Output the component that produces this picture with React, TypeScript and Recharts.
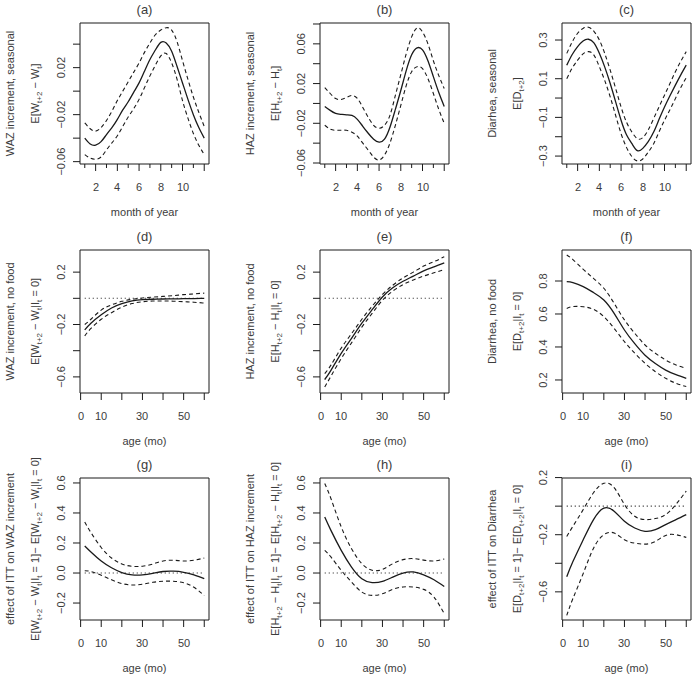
import React from "react";
import {
  LineChart,
  Line,
  XAxis,
  YAxis,
  ReferenceArea,
  ReferenceLine,
} from "recharts";

// month grid (half steps) and age grid
const MONTHS = [1, 1.5, 2, 2.5, 3, 3.5, 4, 4.5, 5, 5.5, 6, 6.5, 7, 7.5, 8, 8.5, 9, 9.5, 10, 10.5, 11, 11.5, 12];
const AGES = [2, 5, 10, 15, 20, 25, 30, 35, 40, 45, 50, 55, 60];

// (a) WAZ increment, seasonal
const aFit = [-0.040, -0.045, -0.046, -0.043, -0.037, -0.031, -0.024, -0.016, -0.009, -0.001, 0.007, 0.017, 0.027, 0.035, 0.0415, 0.041, 0.034, 0.021, 0.007, -0.007, -0.020, -0.031, -0.040];
const aUp = [-0.027, -0.032, -0.034, -0.031, -0.025, -0.017, -0.008, 0.000, 0.008, 0.016, 0.024, 0.033, 0.041, 0.048, 0.052, 0.054, 0.052, 0.042, 0.026, 0.010, -0.005, -0.018, -0.030];
const aLo = [-0.054, -0.057, -0.058, -0.056, -0.050, -0.044, -0.038, -0.030, -0.022, -0.015, -0.007, 0.003, 0.013, 0.022, 0.030, 0.032, 0.024, 0.010, -0.008, -0.023, -0.036, -0.046, -0.054];

// (b) HAZ increment, seasonal
const bFit = [-0.003, -0.007, -0.010, -0.011, -0.0115, -0.012, -0.016, -0.023, -0.030, -0.036, -0.039, -0.036, -0.024, -0.006, 0.013, 0.033, 0.049, 0.056, 0.054, 0.043, 0.027, 0.011, -0.003];
const bUp = [0.016, 0.010, 0.005, 0.004, 0.006, 0.008, 0.005, -0.004, -0.014, -0.022, -0.025, -0.022, -0.012, 0.008, 0.029, 0.050, 0.067, 0.076, 0.072, 0.060, 0.043, 0.028, 0.015];
const bLo = [-0.022, -0.026, -0.027, -0.027, -0.027, -0.029, -0.033, -0.040, -0.047, -0.054, -0.057, -0.052, -0.040, -0.022, -0.002, 0.018, 0.032, 0.037, 0.035, 0.025, 0.010, -0.006, -0.020];

// (c) Diarrhea, seasonal
const cFit = [0.17, 0.225, 0.266, 0.295, 0.304, 0.285, 0.231, 0.16, 0.075, -0.02, -0.115, -0.19, -0.236, -0.272, -0.26, -0.225, -0.176, -0.11, -0.046, 0.012, 0.067, 0.12, 0.17];
const cUp = [0.231, 0.29, 0.335, 0.36, 0.366, 0.345, 0.30, 0.23, 0.144, 0.05, -0.046, -0.125, -0.176, -0.21, -0.205, -0.165, -0.106, -0.045, 0.015, 0.075, 0.136, 0.19, 0.24];
const cLo = [0.10, 0.155, 0.196, 0.228, 0.24, 0.222, 0.162, 0.09, 0.006, -0.09, -0.184, -0.255, -0.303, -0.325, -0.315, -0.28, -0.236, -0.175, -0.115, -0.06, -0.003, 0.055, 0.105];

// (d) WAZ increment, no food
const dFit = [-0.241, -0.19, -0.126, -0.074, -0.041, -0.02, -0.01, -0.007, -0.005, -0.004, -0.003, -0.002, 0.0];
const dUp = [-0.20, -0.16, -0.09, -0.05, -0.023, -0.008, 0.003, 0.009, 0.015, 0.021, 0.028, 0.034, 0.04];
const dLo = [-0.287, -0.23, -0.16, -0.11, -0.067, -0.04, -0.026, -0.021, -0.02, -0.022, -0.026, -0.03, -0.036];

// (e) HAZ increment, no food
const eFit = [-0.62, -0.55, -0.42, -0.305, -0.19, -0.087, 0.01, 0.08, 0.13, 0.17, 0.21, 0.24, 0.27];
const eUp = [-0.575, -0.51, -0.38, -0.27, -0.16, -0.06, 0.03, 0.10, 0.156, 0.20, 0.246, 0.28, 0.318];
const eLo = [-0.677, -0.595, -0.46, -0.34, -0.22, -0.115, -0.015, 0.055, 0.105, 0.14, 0.17, 0.195, 0.22];

// (f) Diarrhea, no food
const fFit = [0.796, 0.79, 0.766, 0.73, 0.685, 0.604, 0.503, 0.42, 0.35, 0.30, 0.26, 0.232, 0.21];
const fUp = [0.958, 0.93, 0.871, 0.816, 0.756, 0.665, 0.564, 0.483, 0.412, 0.362, 0.321, 0.291, 0.271];
const fLo = [0.634, 0.645, 0.644, 0.628, 0.584, 0.513, 0.432, 0.362, 0.301, 0.25, 0.21, 0.18, 0.16];

// (g) effect of ITT on WAZ increment
const gFit = [0.18, 0.14, 0.08, 0.035, 0.003, -0.012, -0.012, -0.002, 0.01, 0.012, 0.005, -0.013, -0.038];
const gUp = [0.34, 0.27, 0.17, 0.10, 0.06, 0.045, 0.045, 0.06, 0.08, 0.085, 0.08, 0.085, 0.10];
const gLo = [0.015, 0.01, -0.015, -0.045, -0.07, -0.08, -0.075, -0.062, -0.055, -0.055, -0.065, -0.095, -0.15];

// (h) effect of ITT on HAZ increment
const hFit = [0.373, 0.284, 0.151, 0.04, -0.038, -0.064, -0.056, -0.027, 0.0, 0.007, -0.012, -0.045, -0.09];
const hUp = [0.596, 0.496, 0.307, 0.162, 0.062, 0.018, 0.024, 0.062, 0.089, 0.096, 0.086, 0.08, 0.094];
const hLo = [0.151, 0.107, 0.018, -0.06, -0.127, -0.149, -0.138, -0.109, -0.093, -0.093, -0.109, -0.16, -0.271];

// (i) effect of ITT on Diarrhea
const iFit = [-0.494, -0.388, -0.235, -0.094, -0.014, -0.035, -0.106, -0.153, -0.176, -0.165, -0.129, -0.094, -0.059];
const iUp = [-0.212, -0.141, -0.024, 0.094, 0.16, 0.129, 0.012, -0.071, -0.094, -0.087, -0.059, 0.012, 0.106];
const iLo = [-0.765, -0.647, -0.471, -0.294, -0.2, -0.188, -0.235, -0.259, -0.266, -0.247, -0.205, -0.2, -0.219];

// ticks
const monthTicks = [1, 2, 3, 4, 5, 6, 7, 8, 9, 10, 11, 12];
const monthMajor = [2, 4, 6, 8, 10, 12];
const monthLabels = [2, 4, 6, 8, 10];
const ageTicks = [0, 10, 20, 30, 40, 50, 60];
const ageLabels = [0, 10, 30, 50];

type Seg = [string, boolean];

const rows = (xs: number[], fit: number[], up: number[], lo: number[]) =>
  xs.map((x, i) => ({ x, fit: fit[i], up: up[i], lo: lo[i] }));

const fmt = (v: number, d: number) => {
  const s = Math.abs(v).toFixed(d);
  return v < 0 ? "\u2212" + s : s;
};

const TXT = "#3c3c3c";
const LINE = "#1a1a1a";

const mkSub = (a: string): Seg[] => [["E[" + a, false], ["t+2", true], [" \u2212 " + a, false], ["t", true]];

const panels = [
  { id: "(a)", bx: 80, by: 23, bh: 141, data: rows(MONTHS, aFit, aUp, aLo), xd: [0.56, 12.44], xt: monthTicks, xm: monthMajor, xl: monthLabels, yd: [-0.062, 0.058], yt: [-0.06, -0.04, -0.02, 0, 0.02, 0.04], yl: [-0.06, -0.02, 0.02], dec: 2, zero: false, xtitle: "month of year", t1: "WAZ increment, seasonal", t2: [...mkSub("W"), ["]", false]] as Seg[] },
  { id: "(b)", bx: 320, by: 23, bh: 141, data: rows(MONTHS, bFit, bUp, bLo), xd: [0.56, 12.44], xt: monthTicks, xm: monthMajor, xl: monthLabels, yd: [-0.061, 0.081], yt: [-0.06, -0.04, -0.02, 0, 0.02, 0.04, 0.06, 0.08], yl: [-0.06, -0.02, 0.02, 0.06], dec: 2, zero: false, xtitle: "month of year", t1: "HAZ increment, seasonal", t2: [...mkSub("H"), ["]", false]] as Seg[] },
  { id: "(c)", bx: 562, by: 23, bh: 141, data: rows(MONTHS, cFit, cUp, cLo), xd: [0.56, 12.44], xt: monthTicks, xm: monthMajor, xl: monthLabels, yd: [-0.341, 0.388], yt: [-0.3, -0.2, -0.1, 0, 0.1, 0.2, 0.3], yl: [-0.3, -0.1, 0.1, 0.3], dec: 1, zero: false, xtitle: "month of year", t1: "Diarhea, seasonal", t2: [["E[D", false], ["t+2", true], ["]", false]] as Seg[] },
  { id: "(d)", bx: 80, by: 250, bh: 143, data: rows(AGES, dFit, dUp, dLo), xd: [-0.3, 62.3], xt: ageTicks, xm: ageTicks, xl: ageLabels, yd: [-0.723, 0.369], yt: [-0.6, -0.4, -0.2, 0, 0.2], yl: [-0.6, -0.2, 0.2], dec: 1, zero: true, xtitle: "age (mo)", t1: "WAZ increment, no food", t2: [...mkSub("W"), ["|I", false], ["t", true], [" = 0]", false]] as Seg[] },
  { id: "(e)", bx: 320, by: 250, bh: 143, data: rows(AGES, eFit, eUp, eLo), xd: [-0.3, 62.3], xt: ageTicks, xm: ageTicks, xl: ageLabels, yd: [-0.723, 0.369], yt: [-0.6, -0.4, -0.2, 0, 0.2], yl: [-0.6, -0.2, 0.2], dec: 1, zero: true, xtitle: "age (mo)", t1: "HAZ increment, no food", t2: [...mkSub("H"), ["|I", false], ["t", true], [" = 0]", false]] as Seg[] },
  { id: "(f)", bx: 562, by: 250, bh: 143, data: rows(AGES, fFit, fUp, fLo), xd: [-0.3, 62.3], xt: ageTicks, xm: ageTicks, xl: ageLabels, yd: [0.121, 0.988], yt: [0.2, 0.4, 0.6, 0.8], yl: [0.2, 0.4, 0.6, 0.8], dec: 1, zero: false, xtitle: "age (mo)", t1: "Diarrhea, no food", t2: [["E[D", false], ["t+2", true], ["|I", false], ["t", true], [" = 0]", false]] as Seg[] },
  { id: "(g)", bx: 80, by: 478, bh: 142, data: rows(AGES, gFit, gUp, gLo), xd: [-0.3, 62.3], xt: ageTicks, xm: ageTicks, xl: ageLabels, yd: [-0.313, 0.633], yt: [-0.2, 0, 0.2, 0.4, 0.6], yl: [-0.2, 0, 0.2, 0.4, 0.6], dec: 1, zero: true, xtitle: "age (mo)", t1: "effect of ITT on WAZ increment", t2: [...mkSub("W"), ["|I", false], ["t", true], [" = 1]\u2212 ", false], ...mkSub("W"), ["|I", false], ["t", true], [" = 0]", false]] as Seg[] },
  { id: "(h)", bx: 320, by: 478, bh: 142, data: rows(AGES, hFit, hUp, hLo), xd: [-0.3, 62.3], xt: ageTicks, xm: ageTicks, xl: ageLabels, yd: [-0.313, 0.633], yt: [-0.2, 0, 0.2, 0.4, 0.6], yl: [-0.2, 0, 0.2, 0.4, 0.6], dec: 1, zero: true, xtitle: "age (mo)", t1: "effect of ITT on HAZ increment", t2: [...mkSub("H"), ["|I", false], ["t", true], [" = 1]\u2212 ", false], ...mkSub("H"), ["|I", false], ["t", true], [" = 0]", false]] as Seg[] },
  { id: "(i)", bx: 562, by: 478, bh: 142, data: rows(AGES, iFit, iUp, iLo), xd: [-0.3, 62.3], xt: ageTicks, xm: ageTicks, xl: ageLabels, yd: [-0.797, 0.197], yt: [-0.6, -0.4, -0.2, 0, 0.2], yl: [-0.6, -0.2, 0.2], dec: 1, zero: true, xtitle: "age (mo)", t1: "effect of ITT on Diarrhea", t2: [["E[D", false], ["t+2", true], ["|I", false], ["t", true], [" = 1]\u2212 E[D", false], ["t+2", true], ["|I", false], ["t", true], [" = 0]", false]] as Seg[] },
];

const BW = 129; // plot box width
const L = 80; // y axis area
const T = 25; // room for panel title
const XH = 60; // x axis area

function renderSegs(segs: Seg[]) {
  return segs.map(([s, sub], k) => {
    const prevSub = k > 0 && segs[k - 1][1];
    const dy = sub && !prevSub ? 3 : !sub && prevSub ? -3 : 0;
    return (
      <tspan key={k} dy={dy} fontSize={sub ? 8 : 11}>
        {s}
      </tspan>
    );
  });
}

function Panel({ p }: { p: (typeof panels)[number] }) {
  const xTick = (props: any) => {
    const { x, y, payload } = props;
    const v = payload.value;
    const major = p.xm.includes(v);
    return (
      <g>
        <line x1={x} x2={x} y1={y} y2={y + (major ? 7 : 4)} stroke={LINE} strokeWidth={1} />
        {p.xl.includes(v) && (
          <text x={Math.round(x)} y={y + 27} textAnchor="middle" fontSize={11} fill={TXT}>
            {v}
          </text>
        )}
      </g>
    );
  };
  const yTick = (props: any) => {
    const { x, y, payload } = props;
    const v = payload.value;
    const show = p.yl.some((l) => Math.abs(l - v) < 1e-9);
    return (
      <g>
        <line x1={x} x2={x - 7} y1={y} y2={y} stroke={LINE} strokeWidth={1} />
        {show && (
          <text x={x - 15} y={y} transform={`rotate(-90, ${x - 15}, ${y})`} textAnchor="middle" fontSize={11} fill={TXT}>
            {fmt(v, p.dec)}
          </text>
        )}
      </g>
    );
  };
  const yTitle = (props: any) => {
    const vb = props.viewBox;
    const px = vb.x + vb.width;
    const cy = vb.y + vb.height / 2;
    return (
      <g fill={TXT}>
        <text x={px - 66} y={cy} transform={`rotate(-90, ${px - 66}, ${cy})`} textAnchor="middle" fontSize={11}>
          {p.t1}
        </text>
        <text x={px - 41} y={cy} transform={`rotate(-90, ${px - 41}, ${cy})`} textAnchor="middle" fontSize={11}>
          {renderSegs(p.t2)}
        </text>
      </g>
    );
  };
  const xTitle = (props: any) => {
    const vb = props.viewBox;
    return (
      <text x={vb.x + vb.width / 2} y={vb.y + 52} textAnchor="middle" fontSize={11} fill={TXT}>
        {p.xtitle}
      </text>
    );
  };
  return (
    <div style={{ position: "absolute", left: p.bx - L, top: p.by - T }}>
      <LineChart
        width={L + BW + 6}
        height={T + p.bh + XH}
        data={p.data}
        margin={{ top: T, right: 6, left: 0, bottom: 0 }}
      >
        <XAxis
          type="number"
          dataKey="x"
          domain={p.xd}
          ticks={p.xt}
          interval={0}
          allowDataOverflow
          axisLine={false}
          tickLine={false}
          tickSize={0}
          tickMargin={0}
          tick={xTick}
          height={XH}
          label={{ content: xTitle }}
        />
        <YAxis
          type="number"
          domain={p.yd}
          ticks={p.yt}
          interval={0}
          allowDataOverflow
          axisLine={false}
          tickLine={false}
          tickSize={0}
          tickMargin={0}
          tick={yTick}
          width={L}
          label={{ content: yTitle }}
        />
        <ReferenceArea
          x1={p.xd[0]}
          x2={p.xd[1]}
          y1={p.yd[0]}
          y2={p.yd[1]}
          fill="none"
          fillOpacity={0}
          stroke={LINE}
          strokeWidth={1}
          label={{ value: p.id, position: "top", offset: 9, fontSize: 13, fill: TXT }}
        />
        {p.zero && (
          <ReferenceLine
            segment={[
              { x: 2, y: 0 },
              { x: 60, y: 0 },
            ]}
            stroke={LINE}
            strokeDasharray="1 3"
            strokeWidth={1.1}
          />
        )}
        <Line type="natural" dataKey="up" stroke={LINE} strokeWidth={1.1} strokeDasharray="4 3" dot={false} isAnimationActive={false} />
        <Line type="natural" dataKey="lo" stroke={LINE} strokeWidth={1.1} strokeDasharray="4 3" dot={false} isAnimationActive={false} />
        <Line type="natural" dataKey="fit" stroke={LINE} strokeWidth={1.3} dot={false} isAnimationActive={false} />
      </LineChart>
    </div>
  );
}

export default function App() {
  return (
    <div
      style={{
        position: "absolute",
        left: 0,
        top: 0,
        width: 695,
        height: 678,
        background: "#fff",
        fontFamily: "'Liberation Sans', Arial, sans-serif",
      }}
    >
      {panels.map((p) => (
        <Panel key={p.id} p={p} />
      ))}
    </div>
  );
}
